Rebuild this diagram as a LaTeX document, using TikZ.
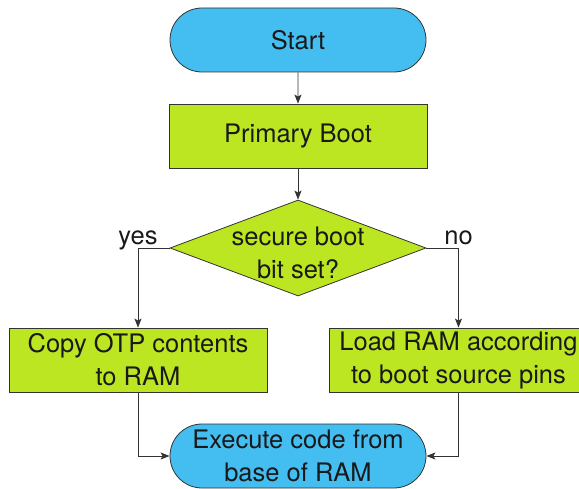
\documentclass[tikz,border=0pt]{standalone}
\usepackage{fontspec}
\setmainfont{TeX Gyre Heros}
\usetikzlibrary{shapes.geometric,shapes.misc,arrows.meta}

\definecolor{skyfill}{RGB}{68,189,240}
\definecolor{limefill}{RGB}{189,230,34}

\begin{document}
\begin{tikzpicture}[
                x=1pt,y=1pt,
                line width=0.8pt,
                >={Stealth[length=9pt,width=7pt,inset=2pt]},
                every node/.style={font=\fontsize{25.5}{33}\selectfont,text=black!90},
                terminal/.style={draw=black!80,rounded rectangle,fill=skyfill,align=center,minimum width=256pt,minimum height=64pt,inner sep=0pt},
                stepbox/.style={draw=black!80,rectangle,fill=limefill,align=center,minimum width=258pt,minimum height=64pt,inner sep=0pt},
                decision/.style={draw=black!80,diamond,fill=limefill,aspect=2.667,minimum width=256pt,minimum height=96pt,inner sep=0pt},
                tag/.style={inner sep=1pt,text depth=0.22em}] %

\useasboundingbox (0,0) rectangle (579,488);

                    % start
                    \node[terminal] (START) at (298,448) {Start}; % 1
                    \node[stepbox] (PBOOT) at (298,352) {Primary Boot}; % 2
                    \path [black!80, ->] (START) edge (PBOOT);

                    % check
                    \node[decision] (CHECK) at (298,240) {}; % 3
                    \node[align=center] (CHECKTXT) at (298,235) {secure boot\\bit set?};
                    \path [black!80, ->] (PBOOT) edge (CHECK);

                    % branches
                    \node[stepbox] (COPY) at (138,128) {Copy OTP contents\\to RAM}; % 4
                    \node[stepbox] (LOAD) at (458.5,128) {Load RAM according\\to boot source pins}; % 5
                    \draw [black!80, ->] (CHECK.west) -| node[tag,above,pos=.5] (YES) {yes} (COPY.north);
                    \draw [black!80, ->] (CHECK.east) -| node[tag,above,pos=.5] (NO) {no} (LOAD.north);

                    % end
                    \node[terminal] (EXEC) at (298,32) {Execute code from\\base of RAM}; % 6
                    \draw [black!80, ->] (COPY.south) |- (EXEC.west);
                    \draw [black!80, ->] (LOAD.south) |- (EXEC.east);

\end{tikzpicture}
\end{document}
